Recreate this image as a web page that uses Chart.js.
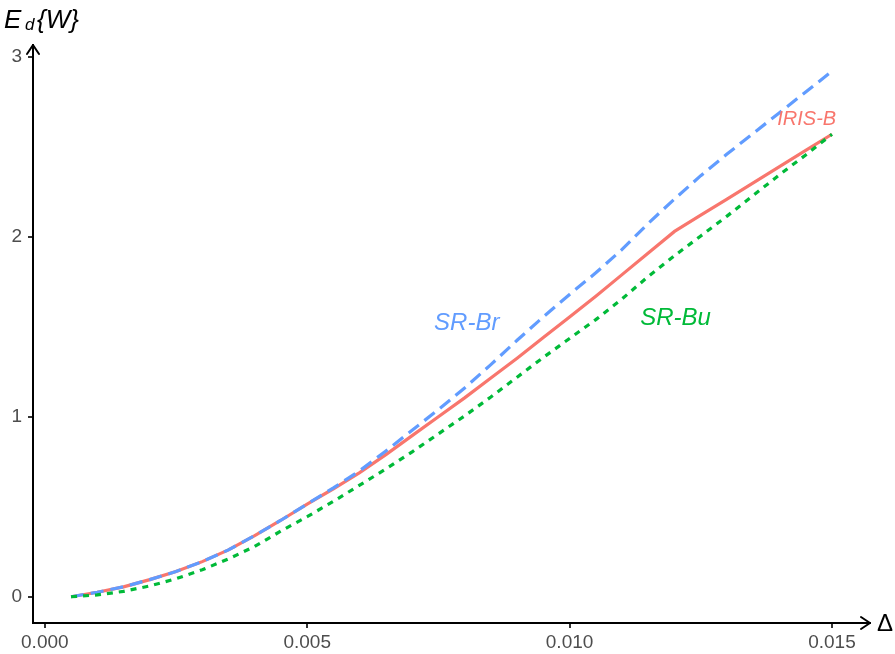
<!DOCTYPE html>
<html>
<head>
<meta charset="utf-8">
<script src="https://cdn.jsdelivr.net/npm/chart.js@4"></script>
<style>
  body { margin: 0; background: #fff; }
  #wrap { width: 895px; height: 654px; }
</style>
</head>
<body>
<div id="wrap"><canvas id="ed-chart"></canvas></div>
<script>
// values
var deltas = [0.0005, 0.001, 0.0015, 0.002, 0.0025, 0.003, 0.0035, 0.004, 0.0045, 0.005,
  0.0055, 0.006, 0.0065, 0.007, 0.0075, 0.008, 0.0085, 0.009, 0.0095, 0.010,
  0.0105, 0.011, 0.0115, 0.012, 0.0125, 0.013, 0.0135, 0.014, 0.0145, 0.015];
var irisB = [0, 0.025, 0.055, 0.095, 0.14, 0.195, 0.26, 0.34, 0.425, 0.515,
  0.60, 0.69, 0.79, 0.895, 1.00, 1.105, 1.215, 1.325, 1.44, 1.555,
  1.67, 1.79, 1.91, 2.03, 2.12, 2.21, 2.30, 2.39, 2.48, 2.57];
var srBr = [0, 0.025, 0.055, 0.095, 0.14, 0.195, 0.26, 0.34, 0.425, 0.515,
  0.605, 0.70, 0.81, 0.925, 1.04, 1.16, 1.29, 1.425, 1.555, 1.68,
  1.80, 1.93, 2.075, 2.21, 2.34, 2.46, 2.575, 2.69, 2.805, 2.92];
var srBu = [0, 0.01, 0.03, 0.06, 0.10, 0.15, 0.21, 0.28, 0.365, 0.445,
  0.53, 0.62, 0.71, 0.805, 0.905, 1.005, 1.11, 1.22, 1.33, 1.435,
  1.54, 1.655, 1.78, 1.895, 2.005, 2.115, 2.23, 2.345, 2.455, 2.57];
var xTicks = [0, 0.005, 0.010, 0.015];
var yTicks = [0, 1, 2, 3];
// curve labels: [text, x, y] in data units
var curveLabels = [
  ["IRIS-B", 0.01452, 2.65],
  ["SR-Br", 0.00804, 1.52],
  ["SR-Bu", 0.01202, 1.545]
];

var RED = "#F8766D", GREEN = "#00BA38", BLUE = "#619CFF";
var FAM = "'Liberation Sans', Arial, sans-serif";

function pts(ys) {
  return deltas.map(function (d, i) { return { x: d, y: ys[i] }; });
}

var extras = {
  id: "extras",
  afterDraw: function (chart) {
    var ctx = chart.ctx, a = chart.chartArea;
    var xs = chart.scales.x, ys = chart.scales.y;
    ctx.save();
    // arrow heads
    ctx.strokeStyle = "#000";
    ctx.lineWidth = 2;
    ctx.lineCap = "round";
    ctx.lineJoin = "round";
    ctx.beginPath();
    ctx.moveTo(a.right - 9, a.bottom - 6);
    ctx.lineTo(a.right, a.bottom);
    ctx.lineTo(a.right - 9, a.bottom + 6);
    ctx.moveTo(a.left - 6, a.top + 9);
    ctx.lineTo(a.left, a.top);
    ctx.lineTo(a.left + 6, a.top + 9);
    ctx.stroke();

    // axis titles
    ctx.fillStyle = "#000";
    ctx.textBaseline = "alphabetic";
    ctx.textAlign = "left";
    ctx.font = "24px " + FAM;
    ctx.fillText("Δ", a.right + 7, a.bottom + 8);
    ctx.font = "italic 26px " + FAM;
    ctx.fillText("E", 4, 28);
    ctx.font = "italic 17px " + FAM;
    ctx.fillText("d", 25, 30);
    ctx.font = "italic 26px " + FAM;
    ctx.fillText("{W}", 37, 28);

    // curve labels
    ctx.textAlign = "center";
    ctx.textBaseline = "middle";
    var cols = [RED, BLUE, GREEN];
    var sizes = [20, 24, 24];
    curveLabels.forEach(function (l, i) {
      ctx.fillStyle = cols[i];
      ctx.font = "italic " + sizes[i] + "px " + FAM;
      ctx.fillText(l[0], xs.getPixelForValue(l[1]), ys.getPixelForValue(l[2]));
    });
    ctx.restore();
  }
};

var tickFont = { family: FAM, size: 19 };

new Chart(document.getElementById("ed-chart"), {
  type: "line",
  data: {
    datasets: [
      { label: "SR-Bu", data: pts(srBu), borderColor: GREEN, borderWidth: 3.2, borderDash: [6, 6], pointRadius: 0, fill: false, tension: 0 },
      { label: "SR-Br", data: pts(srBr), borderColor: BLUE, borderWidth: 3.2, borderDash: [13, 7], pointRadius: 0, fill: false, tension: 0 },
      { label: "IRIS-B", data: pts(irisB), borderColor: RED, borderWidth: 3.2, pointRadius: 0, fill: false, tension: 0 }
    ]
  },
  options: {
    responsive: true,
    maintainAspectRatio: false,
    animation: false,
    layout: { padding: { top: 45, right: 25, left: 0, bottom: 0 } },
    plugins: {
      legend: { display: false },
      tooltip: { enabled: false }
    },
    scales: {
      x: {
        type: "linear",
        min: -0.000225,
        max: 0.015725,
        afterBuildTicks: function (s) { s.ticks = xTicks.map(function (v) { return { value: v }; }); },
        afterFit: function (s) { s.height = 31; },
        ticks: {
          color: "#4D4D4D",
          font: tickFont,
          padding: 3,
          maxRotation: 0,
          callback: function (v) { return v.toFixed(3); }
        },
        grid: { drawOnChartArea: false, drawTicks: true, tickLength: 5, color: "#333", lineWidth: 2 },
        border: { display: true, color: "#000", width: 2 }
      },
      y: {
        type: "linear",
        min: -0.146,
        max: 3.066,
        afterBuildTicks: function (s) { s.ticks = yTicks.map(function (v) { return { value: v }; }); },
        afterFit: function (s) { s.width = 33; },
        ticks: {
          color: "#4D4D4D",
          font: tickFont,
          padding: 6,
          callback: function (v) { return String(v); }
        },
        grid: { drawOnChartArea: false, drawTicks: true, tickLength: 5, color: "#333", lineWidth: 2 },
        border: { display: true, color: "#000", width: 2 }
      }
    }
  },
  plugins: [extras]
});
</script>
</body>
</html>
